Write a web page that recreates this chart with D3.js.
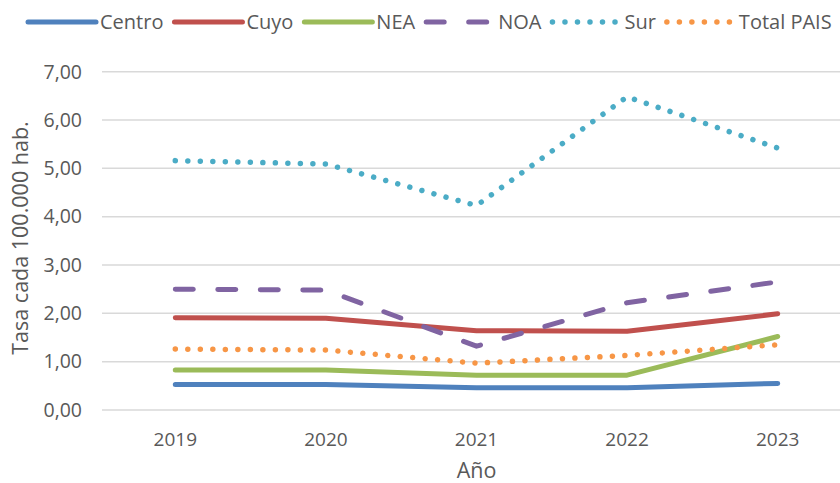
<!DOCTYPE html>
<html lang="es">
<head>
  <meta charset="UTF-8" />
  <title>Tasa cada 100.000 hab.</title>
  <style>
    body { margin: 0; padding: 0; background: #fff; }
    svg { display: block; font-family: "Open Sans", sans-serif; }
    .tick-label { fill: #595959; }
  </style>
</head>
<body>
  <svg id="chart" width="840" height="483"></svg>

  <script src="https://cdn.jsdelivr.net/npm/d3@7"></script>
  <script>
    // data
    const years = ["2019", "2020", "2021", "2022", "2023"];
    const yTicks = [0, 1, 2, 3, 4, 5, 6, 7];

    const centro = [0.53, 0.53, 0.46, 0.46, 0.55];
    const cuyo = [1.91, 1.90, 1.64, 1.63, 1.99];
    const nea = [0.83, 0.83, 0.72, 0.72, 1.52];
    const noa = [2.50, 2.48, 1.32, 2.22, 2.65];
    const sur = [5.16, 5.09, 4.23, 6.48, 5.42];
    const totalPais = [1.26, 1.24, 0.97, 1.13, 1.35];

    const series = [
      { name: "Centro", values: centro, color: "#4F81BD", style: "solid" },
      { name: "Cuyo", values: cuyo, color: "#C0504D", style: "solid" },
      { name: "NEA", values: nea, color: "#9BBB59", style: "solid" },
      { name: "NOA", values: noa, color: "#8064A2", style: "dash" },
      { name: "Sur", values: sur, color: "#4BACC6", style: "dot" },
      { name: "Total PAIS", values: totalPais, color: "#F79646", style: "dot" }
    ];

    const dashes = { solid: null, dash: "18,24.5", dot: "0.01,12.5" };

    const svg = d3.select("#chart");
    const fmt = d3.formatLocale({ decimal: ",", thousands: ".", grouping: [3], currency: ["$", ""] }).format(".2f");

    const x = d3.scalePoint().domain(years).range([100, 853]).padding(0.5);
    const y = d3.scaleLinear().domain([0, 7]).range([410, 71.7]);

    // gridlines
    svg.append("g")
      .selectAll("line")
      .data(yTicks)
      .join("line")
      .attr("x1", 102)
      .attr("x2", 853)
      .attr("y1", d => y(d))
      .attr("y2", d => y(d))
      .attr("stroke", "#d9d9d9")
      .attr("stroke-width", 1.5);

    // y tick labels
    svg.append("g")
      .selectAll("text")
      .data(yTicks)
      .join("text")
      .attr("class", "tick-label")
      .attr("x", 82)
      .attr("y", d => y(d) + 6.8)
      .attr("text-anchor", "end")
      .attr("font-size", "19.5px")
      .text(d => fmt(d));

    // x tick labels
    svg.append("g")
      .selectAll("text")
      .data(years)
      .join("text")
      .attr("class", "tick-label")
      .attr("x", d => x(d))
      .attr("y", 446)
      .attr("text-anchor", "middle")
      .attr("font-size", "19px")
      .text(d => d);

    // axis titles
    svg.append("text")
      .attr("class", "tick-label")
      .attr("x", x.range()[0] / 2 + x.range()[1] / 2)
      .attr("y", 478)
      .attr("text-anchor", "middle")
      .attr("font-size", "21.5px")
      .text("Año");

    svg.append("text")
      .attr("class", "tick-label")
      .attr("transform", "translate(28, 238) rotate(-90)")
      .attr("text-anchor", "middle")
      .attr("font-size", "21.5px")
      .text("Tasa cada 100.000 hab.");

    // lines
    const line = d3.line()
      .x((d, i) => x(years[i]))
      .y(d => y(d));

    svg.append("g")
      .selectAll("path")
      .data(series)
      .join("path")
      .attr("d", d => line(d.values))
      .attr("fill", "none")
      .attr("stroke", d => d.color)
      .attr("stroke-width", d => d.style === "dot" ? 5.5 : 5)
      .attr("stroke-linecap", "round")
      .attr("stroke-linejoin", "round")
      .attr("stroke-dasharray", d => dashes[d.style]);

    // legend
    const legend = svg.append("g");
    let lx = 28;
    series.forEach(s => {
      legend.append("line")
        .attr("x1", lx)
        .attr("x2", lx + 68)
        .attr("y1", 22)
        .attr("y2", 22)
        .attr("stroke", s.color)
        .attr("stroke-width", s.style === "dot" ? 5.5 : 5)
        .attr("stroke-linecap", "round")
        .attr("stroke-dasharray", dashes[s.style]);
      const t = legend.append("text")
        .attr("class", "tick-label")
        .attr("x", lx + 72)
        .attr("y", 29)
        .attr("font-size", "20px")
        .text(s.name);
      lx += 72 + t.node().getComputedTextLength() + 11;
    });
  </script>
</body>
</html>
